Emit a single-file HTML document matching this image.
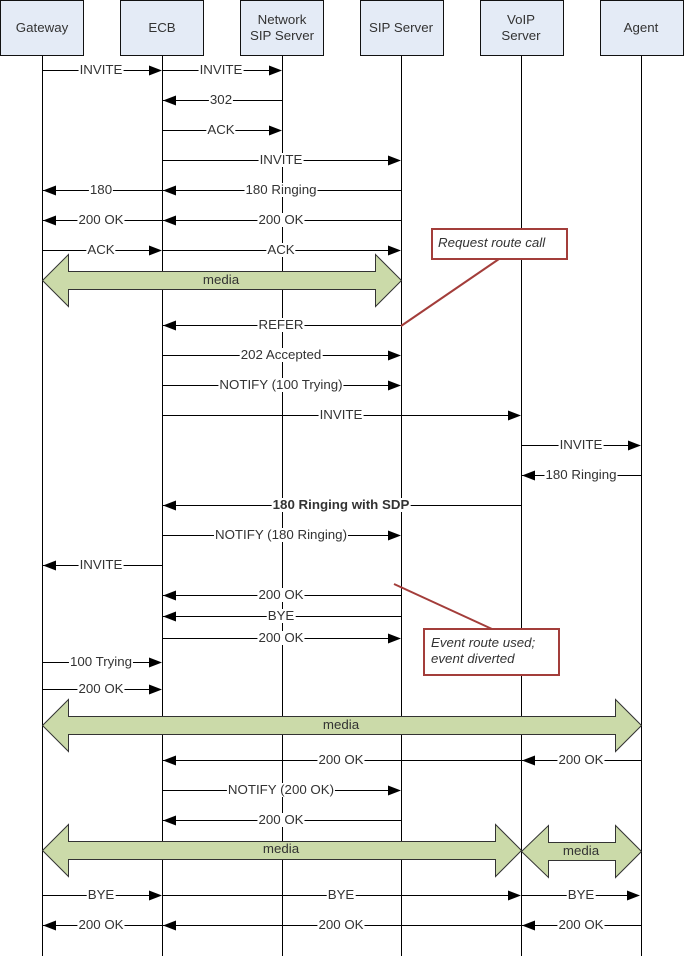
<!DOCTYPE html>
<html><head><meta charset="utf-8"><style>
html,body{margin:0;padding:0;background:#fff}
#d{position:relative;width:684px;height:956px;overflow:hidden;font-family:"Liberation Sans",sans-serif;font-size:13.3px;color:#333}
svg{position:absolute;left:0;top:0}
.l{position:absolute;transform:translateX(-50%);background:#fff;line-height:14px;height:14px;padding:0 1px;white-space:nowrap}
.t{position:absolute;transform:translateX(-50%);line-height:16px;white-space:nowrap;text-align:center}
.n{position:absolute;font-style:italic;line-height:16px;white-space:nowrap}
</style></head><body><div id="d">
<svg width="684" height="956" viewBox="0 0 684 956">
<g stroke="#000" stroke-width="1" fill="none">
<path d="M42.5 55V956M162.5 55V956M282.5 55V956M401.5 55V956M521.5 55V956M641.5 55V956"/>
</g>
<g fill="#e4ebf6" stroke="#111" stroke-width="1">
<rect x="0.5" y="0.5" width="83" height="55"/>
<rect x="120.5" y="0.5" width="83" height="55"/>
<rect x="240.5" y="0.5" width="83" height="55"/>
<rect x="360.5" y="0.5" width="83" height="55"/>
<rect x="480.5" y="0.5" width="83" height="55"/>
<rect x="600.5" y="0.5" width="83" height="55"/>
</g>
<g fill="#cbdaa9" stroke="#333" stroke-width="1">
<path d="M42.5 280.5L68.5 254.5V271.5H375.5V254.5L401.5 280.5L375.5 306.5V289.5H68.5V306.5Z"/>
<path d="M42.5 725.5L68.5 699.5V716.5H615.5V699.5L641.5 725.5L615.5 751.5V734.5H68.5V751.5Z"/>
<path d="M42.5 850.5L68.5 824.5V841.5H495.5V824.5L521.5 850.5L495.5 876.5V859.5H68.5V876.5Z"/>
<path d="M521.5 851.5L548.5 825.5V842.5H615.5V825.5L641.5 851.5L615.5 877.5V860.5H548.5V877.5Z"/>
</g>
<g stroke="#000" stroke-width="1" fill="none">
<path d="M42 70.5H150M162 70.5H270M162 100.5H282M162 130.5H270M162 160.5H390M42 190.5H162M162 190.5H401M42 220.5H162M162 220.5H401M42 250.5H150M162 250.5H390"/>
<path d="M162 325.5H401M162 355.5H390M162 385.5H390M162 415.5H510M521 445.5H630M521 475.5H641M162 505.5H521M162 535.5H390M42 565.5H162"/>
<path d="M162 595.5H401M162 616.5H401M162 638.5H390M42 662.5H150M42 689.5H150"/>
<path d="M162 760.5H641M162 790.5H390M162 820.5H401M42 895.5H150M162 895.5H510M521 895.5H630M42 925.5H641"/>
</g>
<g fill="#000">
<path d="M162 70.5l-13-5v10zM282 70.5l-13-5v10zM163 100.5l13-5v10zM282 130.5l-13-5v10zM401 160.5l-13-5v10zM43 190.5l13-5v10zM163 190.5l13-5v10zM43 220.5l13-5v10zM163 220.5l13-5v10zM162 250.5l-13-5v10zM401 250.5l-13-5v10z"/>
<path d="M163 325.5l13-5v10zM401 355.5l-13-5v10zM401 385.5l-13-5v10zM521 415.5l-13-5v10zM641 445.5l-13-5v10zM522 475.5l13-5v10zM163 505.5l13-5v10zM401 535.5l-13-5v10zM43 565.5l13-5v10z"/>
<path d="M163 595.5l13-5v10zM163 616.5l13-5v10zM401 638.5l-13-5v10zM162 662.5l-13-5v10zM162 689.5l-13-5v10z"/>
<path d="M163 760.5l13-5v10zM522 760.5l13-5v10zM401 790.5l-13-5v10zM163 820.5l13-5v10zM162 895.5l-13-5v10zM521 895.5l-13-5v10zM640 895.5l-13-5v10zM43 925.5l13-5v10zM163 925.5l13-5v10zM522 925.5l13-5v10z"/>
</g>
<g stroke="#a33d3a" stroke-width="2" fill="none">
<path d="M499 259L401 326"/>
<path d="M394 584L492 629"/>
</g>
<g stroke="#a33d3a" stroke-width="2" fill="#fff">
<rect x="432" y="229" width="135" height="30"/>
<rect x="424" y="629" width="135" height="46"/>
</g>
</svg>

<div class="t" style="left:42px;top:20px">Gateway</div>
<div class="t" style="left:162px;top:20px">ECB</div>
<div class="t" style="left:282px;top:12px">Network<br>SIP Server</div>
<div class="t" style="left:401px;top:20px">SIP Server</div>
<div class="t" style="left:521px;top:12px">VoIP<br>Server</div>
<div class="t" style="left:641px;top:20px">Agent</div>

<div class="t" style="left:221px;top:272px">media</div>
<div class="t" style="left:341px;top:717px">media</div>
<div class="t" style="left:281px;top:841px">media</div>
<div class="t" style="left:581px;top:843px">media</div>

<div class="l" style="left:101px;top:63px">INVITE</div>
<div class="l" style="left:221px;top:63px">INVITE</div>
<div class="l" style="left:221px;top:93px">302</div>
<div class="l" style="left:221px;top:123px">ACK</div>
<div class="l" style="left:281px;top:153px">INVITE</div>
<div class="l" style="left:101px;top:183px">180</div>
<div class="l" style="left:281px;top:183px">180 Ringing</div>
<div class="l" style="left:101px;top:213px">200 OK</div>
<div class="l" style="left:281px;top:213px">200 OK</div>
<div class="l" style="left:101px;top:243px">ACK</div>
<div class="l" style="left:281px;top:243px">ACK</div>
<div class="l" style="left:281px;top:318px">REFER</div>
<div class="l" style="left:281px;top:348px">202 Accepted</div>
<div class="l" style="left:281px;top:378px">NOTIFY (100 Trying)</div>
<div class="l" style="left:341px;top:408px">INVITE</div>
<div class="l" style="left:581px;top:438px">INVITE</div>
<div class="l" style="left:581px;top:468px">180 Ringing</div>
<div class="l" style="left:341px;top:498px;font-weight:bold">180 Ringing with SDP</div>
<div class="l" style="left:281px;top:528px">NOTIFY (180 Ringing)</div>
<div class="l" style="left:101px;top:558px">INVITE</div>
<div class="l" style="left:281px;top:588px">200 OK</div>
<div class="l" style="left:281px;top:609px">BYE</div>
<div class="l" style="left:281px;top:631px">200 OK</div>
<div class="l" style="left:101px;top:655px">100 Trying</div>
<div class="l" style="left:101px;top:682px">200 OK</div>
<div class="l" style="left:341px;top:753px">200 OK</div>
<div class="l" style="left:581px;top:753px">200 OK</div>
<div class="l" style="left:281px;top:783px">NOTIFY (200 OK)</div>
<div class="l" style="left:281px;top:813px">200 OK</div>
<div class="l" style="left:101px;top:888px">BYE</div>
<div class="l" style="left:341px;top:888px">BYE</div>
<div class="l" style="left:581px;top:888px">BYE</div>
<div class="l" style="left:101px;top:918px">200 OK</div>
<div class="l" style="left:341px;top:918px">200 OK</div>
<div class="l" style="left:581px;top:918px">200 OK</div>

<div class="n" style="left:438px;top:235px">Request route call</div>
<div class="n" style="left:431px;top:635px">Event route used;<br>event diverted</div>
</div></body></html>
